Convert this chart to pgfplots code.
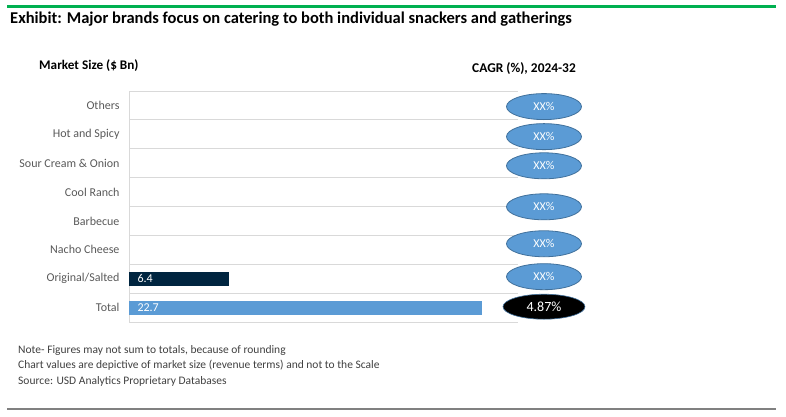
\documentclass[border=0pt]{standalone}
\usepackage{fontspec}
\setmainfont{Carlito}
\usepackage{pgfplots}
\pgfplotsset{compat=1.18}
\usetikzlibrary{shapes.geometric}
\definecolor{exblue}{HTML}{5B9BD5}
\definecolor{exborder}{HTML}{41719C}
\definecolor{exnavy}{HTML}{002540}
\definecolor{exgreen}{HTML}{00B050}
\definecolor{gridgray}{HTML}{D9D9D9}
\definecolor{labgray}{HTML}{595959}
\definecolor{notegray}{HTML}{404040}
\begin{document}
\begin{tikzpicture}
\path[use as bounding box] (0pt,0pt) rectangle (786pt,-416pt);
% frame lines
\draw[exgreen, line width=2.4pt] (7pt,-6.5pt) -- (776pt,-6.5pt);
\draw[gray, line width=1.3pt] (7pt,-409pt) -- (776pt,-409pt);
% headings
\node[anchor=base west, inner sep=0pt, font=\bfseries\fontsize{16.5}{18}\selectfont] at (10pt,-23pt)
  {Exhibit: Major brands focus on catering to both individual snackers and gatherings};
\node[anchor=base west, inner sep=0pt, font=\bfseries\fontsize{13.2}{15}\selectfont] at (39pt,-69pt) {Market Size (\$ Bn)};
\node[anchor=base west, inner sep=0pt, font=\bfseries\fontsize{13.4}{15}\selectfont] at (472pt,-72pt) {CAGR (\%), 2024-32};
% notes
\node[anchor=base west, inner sep=0pt, text=notegray, font=\fontsize{11.5}{13}\selectfont] at (18pt,-353pt) {Note- Figures may not sum to totals, because of rounding};
\node[anchor=base west, inner sep=0pt, text=notegray, font=\fontsize{11.5}{13}\selectfont] at (18pt,-368.5pt) {Chart values are depictive of market size (revenue terms) and not to the Scale};
\node[anchor=base west, inner sep=0pt, text=notegray, font=\fontsize{11.5}{13}\selectfont] at (18pt,-384pt) {Source: USD Analytics Proprietary Databases};

\begin{axis}[
  at={(129pt,-322pt)}, anchor=south west,
  width=389pt, height=231pt, scale only axis,
  xmin=0, xmax=25, ymin=-0.5, ymax=7.5,
  axis x line=none, axis y line*=left,
  axis line style={gridgray, line width=0.9pt},
  ytick={0,...,7},
  yticklabels={Total, Original/Salted, Nacho Cheese, Barbecue, Cool Ranch, Sour Cream \& Onion, Hot and Spicy, Others},
  minor ytick={-0.5,0.5,...,7.5},
  yminorgrids=true, minor grid style={gridgray, line width=0.9pt},
  major tick length=0pt, minor tick length=0pt,
  yticklabel style={font=\fontsize{12}{14}\selectfont, text=labgray, xshift=-6pt},
  clip=false,
]
\addplot[xbar, bar width=14pt, bar shift=0pt, fill=exnavy, draw=none] coordinates {(6.4,1)};
\addplot[xbar, bar width=14pt, bar shift=0pt, fill=exblue, draw=none] coordinates {(22.7,0)};
% value labels inside the bars
\addplot[draw=none, mark=none, nodes near coords, point meta=explicit symbolic,
  nodes near coords style={anchor=west, text=white, font=\fontsize{12}{14}\selectfont, xshift=5pt}]
  table[meta=lab] {
x y lab
0 1 6.4
0 0 22.7
};
% CAGR bubbles
\addplot[draw=none, mark=none, nodes near coords={XX\%},
  nodes near coords style={ellipse, anchor=center, fill=exblue, draw=exborder, line width=0.8pt,
    minimum width=75pt, minimum height=26pt, inner sep=0pt, text=white, font=\fontsize{12}{14}\selectfont}]
  table {
x y
26.67 6.96
26.67 5.92
26.67 4.91
26.67 3.49
26.67 2.21
26.67 1.07
};
\addplot[draw=none, mark=none, nodes near coords={4.87\%},
  nodes near coords style={ellipse, anchor=center, fill=black, draw=exborder, line width=0.6pt,
    minimum width=82pt, minimum height=25pt, inner sep=0pt, text=white, font=\fontsize{14}{16}\selectfont}]
  coordinates {(26.67,0.03)};
\end{axis}
\end{tikzpicture}
\end{document}
